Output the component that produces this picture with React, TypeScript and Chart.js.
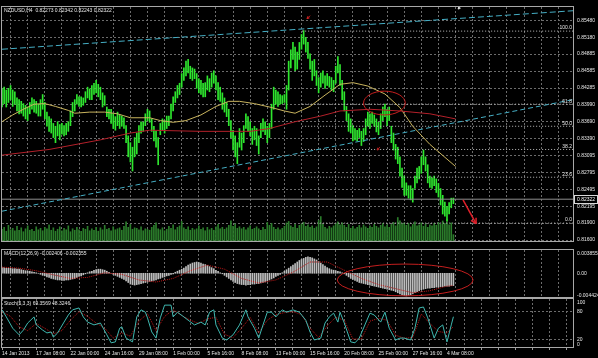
import React, { useEffect, useRef } from "react";
import { Chart, registerables } from "chart.js";
Chart.register(...registerables);

const FONT = "'Liberation Sans', Arial, sans-serif";
const TXT = "#e6e6e6";
const GRID = "#6c6c6c";
const FRAME = "#a8a8a8";

// ---- x axis (bar index, H4 bars from 14 Jan 2013 16:00) ----
const X_MIN = 0;
const X_MAX = 266.9;
const xGridBars = [0, 8, 16, 24, 32, 40, 48, 56, 64, 72, 80, 88, 96, 104, 112, 120, 128, 136, 144, 152, 160, 168, 176, 184, 192, 200, 208, 216, 224, 232, 240, 248, 256, 264];
const xLabelBars = [0, 16, 32, 48, 64, 80, 96, 112, 128, 144, 160, 176, 192, 208];
const xLabels = ["14 Jan 2013", "17 Jan 08:00", "22 Jan 00:00", "24 Jan 16:00", "29 Jan 08:00", "1 Feb 00:00", "5 Feb 16:00", "8 Feb 08:00", "13 Feb 00:00", "15 Feb 16:00", "20 Feb 08:00", "25 Feb 00:00", "27 Feb 16:00", "4 Mar 08:00"];

// ---- main price panel ----
const PRICE_MIN = 0.81566;
const PRICE_MAX = 0.85716;
const priceTicks = [0.816, 0.819, 0.82195, 0.82495, 0.82795, 0.83095, 0.8339, 0.8369, 0.8399, 0.84285, 0.84585, 0.84885, 0.8518, 0.8548];
const mainTitle = "NZDUSD,H4  0.82273 0.82342 0.82243 0.82322";
const lastPrice = 0.82322;

const highs = [
  0.8427, 0.8430, 0.8425, 0.8428, 0.8433, 0.8425, 0.8422, 0.8411, 0.8408, 0.8405,
  0.8401, 0.8398, 0.8395, 0.8403, 0.8411, 0.8408, 0.8405, 0.8400, 0.8408, 0.8417,
  0.8403, 0.8386, 0.8378, 0.8374, 0.8366, 0.8361, 0.8369, 0.8364, 0.8366, 0.8362,
  0.8366, 0.8369, 0.8388, 0.8403, 0.8408, 0.8417, 0.8413, 0.8413, 0.8411, 0.8422,
  0.8430, 0.8427, 0.8433, 0.8437, 0.8442, 0.8435, 0.8430, 0.8420, 0.8415, 0.8395,
  0.8391, 0.8391, 0.8383, 0.8378, 0.8386, 0.8381, 0.8379, 0.8376, 0.8362, 0.8344,
  0.8332, 0.8324, 0.8341, 0.8349, 0.8362, 0.8369, 0.8368, 0.8383, 0.8391, 0.8388,
  0.8374, 0.8361, 0.8352, 0.8341, 0.8366, 0.8374, 0.8371, 0.8379, 0.8379, 0.8400,
  0.8413, 0.8422, 0.8433, 0.8437, 0.8454, 0.8464, 0.8476, 0.8479, 0.8467, 0.8464,
  0.8462, 0.8454, 0.8445, 0.8442, 0.8437, 0.8438, 0.8450, 0.8445, 0.8455, 0.8459,
  0.8450, 0.8438, 0.8430, 0.8420, 0.8411, 0.8403, 0.8391, 0.8371, 0.8354, 0.8344,
  0.8332, 0.8357, 0.8349, 0.8362, 0.8383, 0.8378, 0.8369, 0.8357, 0.8361, 0.8357,
  0.8344, 0.8366, 0.8374, 0.8369, 0.8361, 0.8366, 0.8400, 0.8430, 0.8425, 0.8422,
  0.8417, 0.8415, 0.8417, 0.8433, 0.8476, 0.8496, 0.8509, 0.8501, 0.8492, 0.8509,
  0.8523, 0.8530, 0.8518, 0.8509, 0.8489, 0.8476, 0.8479, 0.8459, 0.8447, 0.8455,
  0.8459, 0.8450, 0.8454, 0.8449, 0.8447, 0.8442, 0.8467, 0.8484, 0.8470, 0.8442,
  0.8422, 0.8396, 0.8383, 0.8374, 0.8362, 0.8357, 0.8354, 0.8357, 0.8352, 0.8357,
  0.8374, 0.8386, 0.8383, 0.8386, 0.8381, 0.8374, 0.8368, 0.8383, 0.8395, 0.8400,
  0.8391, 0.8395, 0.8361, 0.8349, 0.8329, 0.8324, 0.8307, 0.8287, 0.8273, 0.8261,
  0.8256, 0.8256, 0.8251, 0.8273, 0.8287, 0.8290, 0.8307, 0.8319, 0.8307, 0.8293,
  0.8273, 0.8270, 0.8273, 0.8268, 0.8260, 0.8251, 0.8239, 0.8227, 0.8219, 0.8226,
  0.8234, 0.82342,
];
const lows = [
  0.8395, 0.8401, 0.8395, 0.8403, 0.8408, 0.8396, 0.8400, 0.8388, 0.8383, 0.8384,
  0.8379, 0.8374, 0.8371, 0.8383, 0.8391, 0.8386, 0.8384, 0.8379, 0.8379, 0.8391,
  0.8374, 0.8361, 0.8352, 0.8349, 0.8341, 0.8332, 0.8344, 0.8337, 0.8347, 0.8344,
  0.8346, 0.8352, 0.8362, 0.8378, 0.8388, 0.8400, 0.8396, 0.8395, 0.8398, 0.8403,
  0.8411, 0.8408, 0.8408, 0.8417, 0.8420, 0.8413, 0.8408, 0.8395, 0.8398, 0.8378,
  0.8374, 0.8366, 0.8357, 0.8354, 0.8362, 0.8357, 0.8361, 0.8357, 0.8332, 0.8307,
  0.8298, 0.8282, 0.8307, 0.8312, 0.8332, 0.8349, 0.8352, 0.8362, 0.8371, 0.8368,
  0.8352, 0.8335, 0.8324, 0.8293, 0.8346, 0.8354, 0.8349, 0.8357, 0.8362, 0.8374,
  0.8388, 0.8403, 0.8411, 0.8417, 0.8430, 0.8442, 0.8450, 0.8455, 0.8445, 0.8442,
  0.8445, 0.8428, 0.8420, 0.8417, 0.8413, 0.8413, 0.8425, 0.8422, 0.8430, 0.8437,
  0.8425, 0.8408, 0.8405, 0.8391, 0.8386, 0.8378, 0.8362, 0.8341, 0.8319, 0.8307,
  0.8295, 0.8324, 0.8319, 0.8332, 0.8357, 0.8352, 0.8344, 0.8329, 0.8337, 0.8327,
  0.8312, 0.8341, 0.8352, 0.8346, 0.8332, 0.8341, 0.8357, 0.8391, 0.8400, 0.8396,
  0.8400, 0.8401, 0.8403, 0.8391, 0.8425, 0.8464, 0.8479, 0.8459, 0.8462, 0.8479,
  0.8497, 0.8506, 0.8492, 0.8481, 0.8462, 0.8442, 0.8450, 0.8433, 0.8420, 0.8430,
  0.8437, 0.8428, 0.8433, 0.8430, 0.8425, 0.8422, 0.8437, 0.8455, 0.8433, 0.8408,
  0.8388, 0.8371, 0.8352, 0.8349, 0.8335, 0.8337, 0.8335, 0.8341, 0.8327, 0.8334,
  0.8346, 0.8361, 0.8357, 0.8366, 0.8361, 0.8351, 0.8346, 0.8357, 0.8371, 0.8378,
  0.8362, 0.8371, 0.8332, 0.8319, 0.8303, 0.8295, 0.8273, 0.8253, 0.8239, 0.8239,
  0.8234, 0.8231, 0.8227, 0.8251, 0.8261, 0.8268, 0.8278, 0.8293, 0.8282, 0.8261,
  0.8253, 0.8251, 0.8256, 0.8244, 0.8236, 0.8222, 0.8206, 0.8202, 0.8194, 0.8206,
  0.8217, 0.82243,
];
const volumes = [
  2600, 3000, 2200, 3400, 2500, 2800, 2300, 3200, 2400, 2900, 2100, 2700, 3300, 2400,
  2600, 2200, 3100, 2500, 2800, 2300, 3000, 2700, 3500, 2400, 2900, 2200, 2600, 3100,
  2300, 2800, 2500, 3300, 2100, 2700, 2400, 3000, 2500, 2200, 2800, 2600, 3200, 2300,
  2700, 2400, 3000, 2200, 2900, 2500, 3400, 2600, 2800, 2300, 3100, 2500, 2700, 2900,
  2400, 3200, 4100, 3000, 3600, 2600, 2900, 2800, 2500, 3100, 2300, 2700, 2600, 2400,
  3000, 3400, 3900, 2700, 2500, 2900, 2300, 2600, 3200, 2800, 3500, 2500, 3000, 3300,
  4200, 2900, 2600, 3100, 2400, 2800, 2500, 2700, 3300, 2600, 2900, 2300, 3000, 2500,
  2800, 2400, 3100, 3600, 2700, 3000, 2600, 2900, 3400, 4300, 3200, 3700, 2800, 3100,
  2700, 3000, 2500, 2900, 3300, 2600, 2800, 3100, 2700, 2400, 3000, 2600, 4000, 3400,
  3800, 3000, 2600, 2900, 2500, 2800, 3200, 3900, 4200, 3300, 3000, 3600, 2800, 3400,
  3700, 4000, 3200, 3500, 3000, 3300, 2800, 3100, 4400, 5200, 3600, 3000, 2700, 3200,
  2900, 3300, 3800, 4100, 3500, 3900, 3400, 3000, 3600, 2800, 3200, 2700, 3000, 3400,
  2900, 3500, 3100, 2800, 3300, 3000, 3600, 3200, 2900, 3400, 3800, 3100, 3500, 3000,
  3600, 4000, 3300, 5000, 4300, 3700, 3900, 3400, 3800, 3100, 3600, 4100, 3300, 3500,
  3900, 3200, 3700, 3000, 3500, 3300, 3800, 3400, 4000, 3600, 4300, 3800, 4600, 3500,
  3900, 1500,
];
const VOL_MAX = 48000;

const maYellow = [[0, 0.8369], [5, 0.8381], [10, 0.8391], [15, 0.8400], [20, 0.8401], [25, 0.8396], [31, 0.8389], [34, 0.8384], [41, 0.8386], [48, 0.8386], [54, 0.8383], [60, 0.8376], [69, 0.8376], [74, 0.8371], [80, 0.8368], [86, 0.8371], [93, 0.8381], [100, 0.8396], [106, 0.8405], [111, 0.8405], [118, 0.8401], [125, 0.8395], [132, 0.8388], [137, 0.8384], [144, 0.8396], [151, 0.8416], [158, 0.8435], [164, 0.8438], [171, 0.8432], [179, 0.8418], [186, 0.8394], [192, 0.8361], [200, 0.8329], [208, 0.8303], [212, 0.8290]];
const maRed = [[0, 0.8310], [22, 0.8320], [46, 0.8337], [60, 0.8349], [69, 0.8354], [93, 0.8352], [116, 0.8352], [125, 0.8357], [137, 0.8369], [149, 0.8379], [158, 0.8388], [172, 0.8391], [186, 0.8388], [200, 0.8383], [212, 0.8374]];
const upperTrend = [[0, 0.8497], [266.9, 0.8565]];
const lowerTrend = [[0, 0.8211], [266.9, 0.8408]];
const fibStart = 140.3;
const fibLevels = [0.8529, 0.8400, 0.8361, 0.8320, 0.8271, 0.8190];
const fibLabels = ["100.0", "61.8", "50.0", "38.2", "23.6", "0.0"];
const mainEllipse = { x0: 169, x1: 188.5, y0: 0.8381, y1: 0.8423 };
const bigArrow = { x0: 215.5, y0: 0.8231, x1: 221.6, y1: 0.8189 };
const smallArrows = [
  { x: 142.6, y: 0.8551, color: "#d02020" },
  { x: 115.1, y: 0.8285, color: "#d02020" },
  { x: 175.3, y: 0.8319, color: "#b02020" },
  { x: 213.2, y: 0.8568, color: "#e0e0e0" },
];

// ---- MACD panel ----
const MACD_MIN = -0.004814;
const MACD_MAX = 0.004537;
const macdTicks = [0.003855, 0, -0.004424];
const macdTickLabels = ["0.003855", "0.00", "-0.004424"];
const macdTitle = "MACD(12,26,9) -0.002406 -0.002355";
const macdHist = [
  0.0011, 0.0011, 0.0010, 0.0010, 0.0010, 0.0009, 0.0009, 0.0008, 0.0008, 0.0007, 0.0006,
  0.0005, 0.0004, 0.0004, 0.0003, 0.0002, 0.0001, 0.0000,
  -0.0002, -0.0004, -0.0005, -0.0007, -0.0008, -0.0010, -0.0011, -0.0012, -0.0013, -0.0013,
  -0.0014, -0.0014, -0.0013, -0.0013, -0.0012, -0.0011, -0.0010,
  -0.0008, -0.0006, -0.0005, -0.0003, -0.0001,
  0.0001, 0.0003, 0.0004, 0.0006, 0.0007, 0.0008, 0.0008, 0.0007, 0.0006,
  0.0004, 0.0002, 0.0000, -0.0002, -0.0004,
  -0.0006, -0.0008, -0.0010, -0.0012, -0.0015, -0.0018, -0.0021, -0.0022, -0.0023, -0.0022, -0.0021,
  -0.0020, -0.0019, -0.0018, -0.0017, -0.0016, -0.0015, -0.0014, -0.0013, -0.0011, -0.0010,
  -0.0008, -0.0007, -0.0005, -0.0004, -0.0002, -0.0001,
  0.0002, 0.0004, 0.0006, 0.0008, 0.0010,
  0.0013, 0.0016, 0.0018, 0.0020, 0.0021, 0.0022, 0.0021,
  0.0020, 0.0018, 0.0017, 0.0015, 0.0013, 0.0011, 0.0009,
  0.0006, 0.0004, 0.0001, -0.0001, -0.0004,
  -0.0007, -0.0010, -0.0013, -0.0016, -0.0018, -0.0020, -0.0021, -0.0022, -0.0022,
  -0.0023, -0.0022, -0.0022, -0.0021, -0.0021, -0.0020, -0.0020, -0.0019, -0.0018, -0.0017,
  -0.0015, -0.0013, -0.0011, -0.0009, -0.0006, -0.0004, -0.0002,
  0.0001, 0.0004, 0.0007, 0.0010, 0.0013, 0.0016, 0.0019, 0.0022, 0.0025,
  0.0027, 0.0029, 0.0031, 0.0032, 0.0031, 0.0030,
  0.0028, 0.0026, 0.0023, 0.0020, 0.0017, 0.0014, 0.0011, 0.0009,
  0.0007, 0.0006, 0.0005, 0.0004, 0.0003, 0.0001, -0.0001,
  -0.0004, -0.0007, -0.0010, -0.0012, -0.0014, -0.0016, -0.0018,
  -0.0019, -0.0020, -0.0021, -0.0022, -0.0023, -0.0024, -0.0025, -0.0026, -0.0027,
  -0.0028, -0.0029, -0.0030, -0.0031, -0.0032, -0.0033, -0.0034,
  -0.0036, -0.0038, -0.0040, -0.0042, -0.0043, -0.0044, -0.0043,
  -0.0042, -0.0040, -0.0038, -0.0036, -0.0034, -0.0032, -0.0031, -0.0030, -0.0029, -0.0029,
  -0.0028, -0.0028, -0.0027, -0.0027, -0.0026, -0.0026, -0.0025,
  -0.0025, -0.0025, -0.0024, -0.0024,
];
const macdSignal = [[0, 0.0012], [8, 0.0010], [16, 0.0005], [24, -0.0003], [32, -0.0010], [40, -0.0008], [48, 0.0001], [56, -0.0002], [64, -0.0013], [72, -0.0017], [80, -0.0010], [88, 0.0005], [96, 0.0016], [104, 0.0008], [112, -0.0010], [120, -0.0019], [128, -0.0013], [136, 0.0002], [144, 0.0022], [152, 0.0022], [160, 0.0006], [168, -0.0010], [176, -0.0022], [184, -0.0030], [192, -0.0038], [200, -0.0034], [208, -0.0025], [211, -0.0024]];
const macdEllipse = { x0: 156.7, x1: 220.2, y0: -0.0044, y1: 0.0018 };

// ---- Stochastic panel ----
const STO_MIN = 3;
const STO_MAX = 107;
const stoTicks = [100, 80, 20, 0];
const stoLevels = [80, 20];
const stoTitle = "Stoch(5,3,3) 69.3569 48.3246";
const stochMain = [[0, 84], [2, 69], [5, 45], [8, 31], [10, 41], [12, 56], [15, 69], [16, 52], [19, 41], [21, 35], [23, 37], [24, 26], [26, 35], [29, 58], [31, 73], [33, 84], [36, 88], [38, 69], [40, 58], [43, 52], [46, 56], [49, 31], [51, 14], [53, 16], [55, 45], [56, 48], [58, 24], [61, 16], [63, 69], [65, 84], [67, 79], [68, 67], [70, 37], [72, 24], [74, 67], [76, 94], [79, 94], [80, 69], [82, 79], [85, 69], [87, 62], [90, 52], [93, 58], [95, 52], [97, 79], [99, 84], [100, 52], [103, 24], [105, 20], [108, 31], [111, 52], [114, 84], [115, 69], [118, 45], [120, 24], [122, 52], [124, 79], [126, 79], [128, 69], [131, 84], [133, 79], [136, 84], [139, 79], [142, 62], [144, 37], [146, 20], [149, 24], [151, 56], [153, 69], [155, 77], [157, 58], [158, 79], [160, 56], [163, 16], [165, 14], [167, 24], [170, 56], [172, 77], [174, 73], [177, 58], [179, 79], [181, 45], [184, 20], [186, 24], [188, 24], [191, 20], [193, 45], [195, 88], [197, 90], [199, 67], [202, 24], [204, 45], [206, 52], [208, 16], [210, 52], [211, 69.36]];
const stochSignal = [[0, 80], [4, 70], [8, 48], [12, 40], [16, 55], [20, 45], [24, 33], [28, 40], [32, 62], [36, 80], [40, 70], [44, 56], [48, 45], [52, 24], [56, 35], [60, 28], [64, 60], [68, 76], [72, 40], [76, 70], [80, 84], [84, 72], [88, 62], [92, 55], [96, 65], [100, 68], [104, 32], [108, 25], [112, 45], [116, 68], [120, 35], [124, 62], [128, 74], [132, 78], [136, 80], [140, 74], [144, 45], [148, 25], [152, 50], [156, 68], [160, 62], [164, 22], [168, 22], [172, 60], [176, 66], [180, 62], [184, 30], [188, 24], [192, 25], [196, 75], [200, 55], [204, 38], [208, 35], [211, 48.32]];

// ---------------------------------------------------------------
const pts = (arr: number[][]) => arr.map(([x, y]) => ({ x, y }));

function xScale(showLabels: boolean) {
  return {
    type: "linear",
    min: X_MIN,
    max: X_MAX,
    offset: false,
    border: { display: false, dash: [2, 2] },
    grid: { color: GRID, lineWidth: 1, drawTicks: showLabels, tickLength: 2, tickColor: "#9a9a9a", tickBorderDash: [] },
    ticks: {
      display: showLabels,
      autoSkip: false,
      maxRotation: 0,
      minRotation: 0,
      align: "start",
      padding: 1,
      color: TXT,
      font: { size: 5, family: FONT },
      callback: (v: number) => {
        const k = xLabelBars.indexOf(v);
        return k >= 0 ? xLabels[k] : "";
      },
    },
    afterBuildTicks: (s: any) => {
      s.ticks = xGridBars.map((v) => ({ value: v }));
    },
    afterFit: (s: any) => {
      s.height = showLabels ? 10 : 0;
    },
  };
}

function frameStroke(chart: any, ctx: CanvasRenderingContext2D) {
  const a = chart.chartArea;
  ctx.save();
  ctx.strokeStyle = FRAME;
  ctx.lineWidth = 1;
  ctx.strokeRect(a.left - 0.5, a.top - 0.5, a.right - a.left + 1, a.bottom - a.top);
  ctx.restore();
}

function arrowLine(ctx: CanvasRenderingContext2D, x0: number, y0: number, x1: number, y1: number, head: number) {
  ctx.beginPath();
  ctx.moveTo(x0, y0);
  ctx.lineTo(x1, y1);
  ctx.stroke();
  const ang = Math.atan2(y1 - y0, x1 - x0);
  ctx.beginPath();
  ctx.moveTo(x1, y1);
  ctx.lineTo(x1 - head * Math.cos(ang - 0.5), y1 - head * Math.sin(ang - 0.5));
  ctx.moveTo(x1, y1);
  ctx.lineTo(x1 - head * Math.cos(ang + 0.5), y1 - head * Math.sin(ang + 0.5));
  ctx.stroke();
}

function drawEllipse(ctx: CanvasRenderingContext2D, xs: any, ys: any, e: any) {
  const x0 = xs.getPixelForValue(e.x0), x1 = xs.getPixelForValue(e.x1);
  const y0 = ys.getPixelForValue(e.y1), y1 = ys.getPixelForValue(e.y0);
  ctx.beginPath();
  ctx.ellipse((x0 + x1) / 2, (y0 + y1) / 2, (x1 - x0) / 2, (y1 - y0) / 2, 0, 0, Math.PI * 2);
  ctx.stroke();
}

const mainOverlay = {
  id: "mainOverlay",
  afterDatasetsDraw(chart: any) {
    const { ctx, chartArea: a } = chart;
    const xs = chart.scales.x, ys = chart.scales.y;
    ctx.save();
    ctx.strokeStyle = "#c41e1e";
    ctx.lineWidth = 1;
    drawEllipse(ctx, xs, ys, mainEllipse);
    ctx.strokeStyle = "#e0202a";
    ctx.lineWidth = 1.5;
    arrowLine(ctx, xs.getPixelForValue(bigArrow.x0), ys.getPixelForValue(bigArrow.y0), xs.getPixelForValue(bigArrow.x1), ys.getPixelForValue(bigArrow.y1), 6);
    ctx.lineWidth = 1;
    smallArrows.forEach((s) => {
      const px = xs.getPixelForValue(s.x), py = ys.getPixelForValue(s.y);
      ctx.strokeStyle = s.color;
      arrowLine(ctx, px + 3, py - 3, px, py, 2.5);
    });
    ctx.font = `5px ${FONT}`;
    ctx.fillStyle = TXT;
    ctx.textAlign = "right";
    ctx.textBaseline = "bottom";
    fibLevels.forEach((p, i) => ctx.fillText(fibLabels[i], a.right - 1, ys.getPixelForValue(p) - 0.5));
    ctx.textAlign = "left";
    ctx.textBaseline = "middle";
    ctx.fillText(mainTitle, a.left + 2, a.top + 4);
    // current price box on the axis
    const py = Math.round(ys.getPixelForValue(lastPrice)) + 0.5;
    ctx.fillStyle = "#000";
    ctx.fillRect(a.right + 1, py - 4, 24, 8);
    ctx.strokeStyle = "#d8d8d8";
    ctx.lineWidth = 1;
    ctx.strokeRect(a.right + 1.5, py - 4, 23, 8);
    ctx.fillStyle = "#ffffff";
    ctx.fillText(lastPrice.toFixed(5), a.right + 4, py);
    ctx.restore();
    frameStroke(chart, ctx);
  },
};

const macdOverlay = {
  id: "macdOverlay",
  afterDatasetsDraw(chart: any) {
    const { ctx, chartArea: a } = chart;
    const xs = chart.scales.x, ys = chart.scales.y;
    ctx.save();
    ctx.strokeStyle = "#c41e1e";
    ctx.lineWidth = 1;
    drawEllipse(ctx, xs, ys, macdEllipse);
    ctx.font = `5px ${FONT}`;
    ctx.fillStyle = TXT;
    ctx.textAlign = "left";
    ctx.textBaseline = "middle";
    ctx.fillText(macdTitle, a.left + 2, a.top + 4);
    macdTicks.forEach((v, i) => ctx.fillText(macdTickLabels[i], a.right + 4, ys.getPixelForValue(v)));
    ctx.restore();
    frameStroke(chart, ctx);
  },
};

const stochOverlay = {
  id: "stochOverlay",
  afterDatasetsDraw(chart: any) {
    const { ctx, chartArea: a } = chart;
    const ys = chart.scales.y;
    ctx.save();
    ctx.font = `5px ${FONT}`;
    ctx.fillStyle = TXT;
    ctx.textAlign = "left";
    ctx.textBaseline = "middle";
    ctx.fillText(stoTitle, a.left + 2, a.top + 5);
    stoTicks.forEach((v) => {
      const yy = Math.min(Math.max(ys.getPixelForValue(v), a.top + 3), a.bottom - 3);
      ctx.fillText(String(v), a.right + 4, yy);
    });
    ctx.restore();
    frameStroke(chart, ctx);
  },
};

const baseOptions = (padTop: number) => ({
  animation: false,
  responsive: false,
  devicePixelRatio: 1,
  events: [],
  layout: { padding: { left: 2, top: padTop, right: 0, bottom: 0 } },
  plugins: { legend: { display: false }, tooltip: { enabled: false } },
});

const rightAxis = (min: number, max: number, extra: any) => ({
  position: "right",
  min,
  max,
  border: { display: false, dash: [2, 2] },
  afterFit: (s: any) => {
    s.width = 25;
  },
  ...extra,
});

export default function App() {
  const mainRef = useRef<HTMLCanvasElement>(null);
  const macdRef = useRef<HTMLCanvasElement>(null);
  const stochRef = useRef<HTMLCanvasElement>(null);

  useEffect(() => {
    document.body.style.margin = "0";
    document.body.style.background = "#000";

    const line = (data: any[], color: string, width: number, dash: number[] = [], order = 1, yAxisID = "y") => ({
      type: "line",
      data,
      borderColor: color,
      borderWidth: width,
      borderDash: dash,
      pointRadius: 0,
      tension: 0,
      fill: false,
      yAxisID,
      order,
    });

    const main = new Chart(mainRef.current as HTMLCanvasElement, {
      type: "bar",
      data: {
        datasets: [
          line(pts(upperTrend), "#45aec4", 1, [6, 3], 2),
          line(pts(lowerTrend), "#45aec4", 1, [5, 3], 2),
          ...fibLevels.map((p) => line([{ x: fibStart, y: p }, { x: X_MAX, y: p }], "#bdbdbd", 1, [1, 2], 3)),
          line([{ x: X_MIN, y: lastPrice }, { x: X_MAX, y: lastPrice }], "#8e8e8e", 1, [], 3),
          line(pts(maRed), "#b4202a", 1, [], 1),
          line(pts(maYellow), "#c9b45e", 1, [], 1),
          {
            type: "bar",
            data: highs.map((h, i) => ({ x: i, y: [lows[i], h] })),
            backgroundColor: "#2ee62e",
            barThickness: 1,
            grouped: false,
            yAxisID: "y",
            order: 5,
          },
          {
            type: "bar",
            data: volumes.map((v, i) => ({ x: i, y: v })),
            backgroundColor: "#2b7d2b",
            barThickness: 1,
            grouped: false,
            yAxisID: "yv",
            order: 10,
          },
        ],
      } as any,
      options: {
        ...baseOptions(3),
        scales: {
          x: xScale(false),
          y: rightAxis(PRICE_MIN, PRICE_MAX, {
            grid: { color: GRID, drawTicks: false },
            afterBuildTicks: (s: any) => {
              s.ticks = priceTicks.map((v) => ({ value: v }));
            },
            ticks: { color: TXT, font: { size: 5, family: FONT }, padding: 4, autoSkip: false, callback: (v: number) => v.toFixed(5) },
          }),
          yv: { display: false, min: 0, max: VOL_MAX },
        },
      } as any,
      plugins: [mainOverlay],
    });

    const macd = new Chart(macdRef.current as HTMLCanvasElement, {
      type: "bar",
      data: {
        datasets: [
          line(pts(macdSignal), "#c01818", 1, [1, 1], 1),
          {
            type: "bar",
            data: macdHist.map((v, i) => ({ x: i, y: v })),
            backgroundColor: "#bdbdbd",
            barThickness: 1,
            grouped: false,
            order: 5,
          },
        ],
      } as any,
      options: {
        ...baseOptions(1),
        scales: {
          x: xScale(false),
          y: rightAxis(MACD_MIN, MACD_MAX, {
            grid: { display: false },
            ticks: { display: false },
          }),
        },
      } as any,
      plugins: [macdOverlay],
    });

    const stoch = new Chart(stochRef.current as HTMLCanvasElement, {
      type: "line",
      data: {
        datasets: [
          line(pts(stochSignal), "#c01818", 1, [1, 1], 2),
          line(pts(stochMain), "#3fb8b0", 1, [], 1),
        ],
      } as any,
      options: {
        ...baseOptions(1),
        scales: {
          x: xScale(true),
          y: rightAxis(STO_MIN, STO_MAX, {
            afterBuildTicks: (s: any) => {
              s.ticks = stoLevels.map((v) => ({ value: v }));
            },
            grid: { color: GRID, drawTicks: false },
            ticks: { display: false },
          }),
        },
      } as any,
      plugins: [stochOverlay],
    });

    return () => {
      main.destroy();
      macd.destroy();
      stoch.destroy();
    };
  }, []);

  return (
    <div style={{ position: "fixed", left: 0, top: 0, width: 598, height: 358, background: "#000", overflow: "hidden" }}>
      <canvas ref={mainRef} width={598} height={249} style={{ position: "absolute", left: 0, top: 0, width: 598, height: 249 }} />
      <canvas ref={macdRef} width={598} height={49} style={{ position: "absolute", left: 0, top: 249, width: 598, height: 49 }} />
      <canvas ref={stochRef} width={598} height={60} style={{ position: "absolute", left: 0, top: 298, width: 598, height: 60 }} />
    </div>
  );
}
